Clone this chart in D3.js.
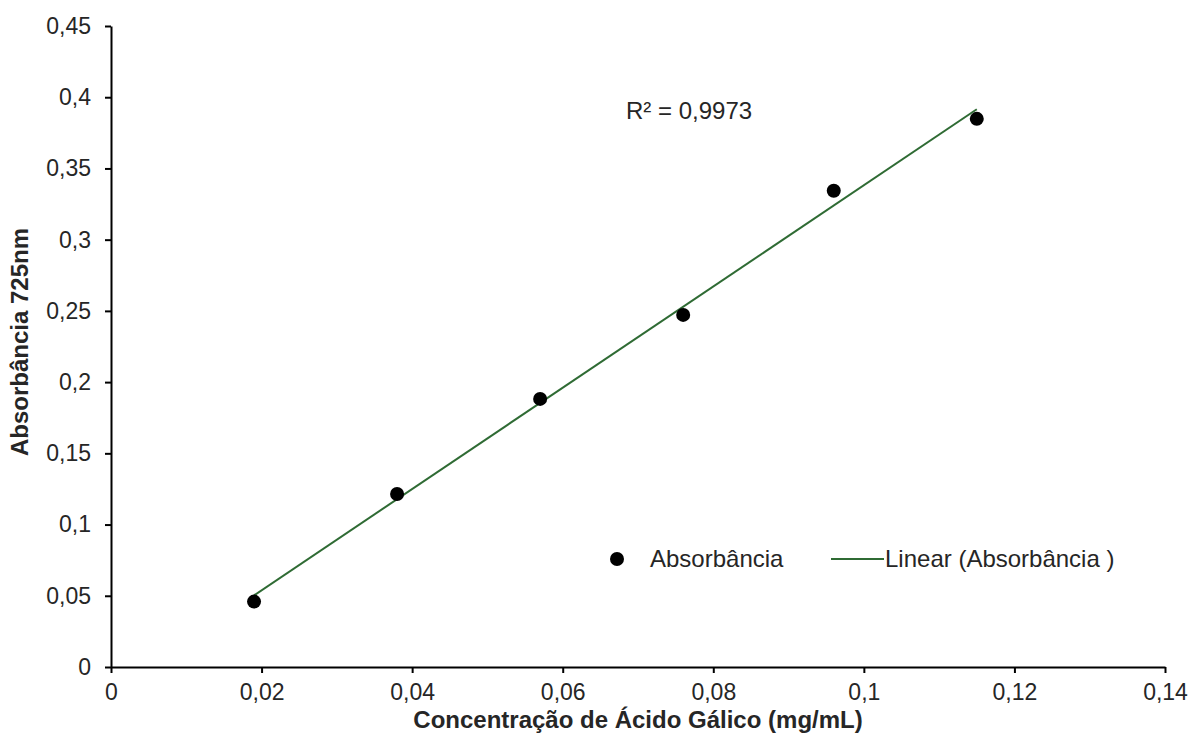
<!DOCTYPE html>
<html>
<head>
<meta charset="utf-8">
<script src="https://cdn.jsdelivr.net/npm/d3@7"></script>
<style>
  body { margin: 0; background: #fff; }
  svg text { font-family: "Liberation Sans", Arial, sans-serif; fill: #262626; }
</style>
</head>
<body>
<div id="chart"></div>
<script>
// data
const concentracao = [0.019, 0.038, 0.057, 0.076, 0.096, 0.115];
const absorbancia = [0.0459, 0.1215, 0.1882, 0.2472, 0.3343, 0.3848];

const xTicks = [0, 0.02, 0.04, 0.06, 0.08, 0.1, 0.12, 0.14];
const xTickLabels = ["0", "0,02", "0,04", "0,06", "0,08", "0,1", "0,12", "0,14"];
const yTicks = [0, 0.05, 0.1, 0.15, 0.2, 0.25, 0.3, 0.35, 0.4, 0.45];
const yTickLabels = ["0", "0,05", "0,1", "0,15", "0,2", "0,25", "0,3", "0,35", "0,4", "0,45"];

const r2Label = "R² = 0,9973";
const seriesName = "Absorbância";
const trendName = "Linear (Absorbância )";
const xTitle = "Concentração de Ácido Gálico (mg/mL)";
const yTitle = "Absorbância 725nm";

const chartWidth = 1194;
const chartHeight = 744;
const margin = {top: 26, right: 29, bottom: 77, left: 111};
const trendColor = "#2f6b34";

const data = concentracao.map((x, i) => ({x: x, y: absorbancia[i]}));

// least squares fit for the trendline
const mx = d3.mean(concentracao), my = d3.mean(absorbancia);
const slope = d3.sum(data, d => (d.x - mx) * (d.y - my)) / d3.sum(data, d => (d.x - mx) ** 2);
const intercept = my - slope * mx;
const xExtent = d3.extent(concentracao);
const trend = xExtent.map(x => ({x: x, y: intercept + slope * x}));

const x = d3.scaleLinear()
  .domain([0, 0.14])
  .range([margin.left, chartWidth - margin.right]);

const y = d3.scaleLinear()
  .domain([0, 0.45])
  .range([chartHeight - margin.bottom, margin.top]);

const svg = d3.select('#chart').append('svg')
  .attr('width', chartWidth)
  .attr('height', chartHeight);

// axes
const xAxis = svg.append('g')
  .attr('transform', `translate(0,${y(0)})`)
  .call(d3.axisBottom(x).tickValues(xTicks).tickFormat((d, i) => xTickLabels[i]).tickSize(6).tickPadding(11).tickSizeOuter(0));

const yAxis = svg.append('g')
  .attr('transform', `translate(${x(0)},0)`)
  .call(d3.axisLeft(y).tickValues(yTicks).tickFormat((d, i) => yTickLabels[i]).tickSize(6).tickPadding(14).tickSizeOuter(0));

[xAxis, yAxis].forEach(g => {
  g.select('.domain').attr('stroke', '#000').attr('stroke-width', 2);
  g.selectAll('.tick line').attr('stroke', '#000').attr('stroke-width', 2);
  g.selectAll('.tick text')
    .attr('font-size', 23)
    .attr('font-family', '"Liberation Sans", Arial, sans-serif')
    .attr('fill', '#262626');
});

// trendline
svg.append('path')
  .datum(trend)
  .attr('d', d3.line().x(d => x(d.x)).y(d => y(d.y)))
  .attr('fill', 'none')
  .attr('stroke', trendColor)
  .attr('stroke-width', 2);

// points
svg.append('g').selectAll('circle')
  .data(data)
  .join('circle')
  .attr('cx', d => x(d.x))
  .attr('cy', d => y(d.y))
  .attr('r', 7)
  .attr('fill', '#000');

// R squared
svg.append('text')
  .attr('x', 626)
  .attr('y', 119)
  .attr('font-size', 24)
  .text(r2Label);

// legend
const legend = svg.append('g');
legend.append('circle').attr('cx', 617).attr('cy', 559).attr('r', 7).attr('fill', '#000');
legend.append('text').attr('x', 650).attr('y', 567).attr('font-size', 24).text(seriesName);
legend.append('line')
  .attr('x1', 831).attr('x2', 884).attr('y1', 559).attr('y2', 559)
  .attr('stroke', trendColor).attr('stroke-width', 2);
legend.append('text').attr('x', 885).attr('y', 567).attr('font-size', 24).text(trendName);

// axis titles
svg.append('text')
  .attr('x', 638)
  .attr('y', 728)
  .attr('text-anchor', 'middle')
  .attr('font-size', 24)
  .attr('font-weight', 'bold')
  .text(xTitle);

svg.append('text')
  .attr('transform', 'translate(28,342) rotate(-90)')
  .attr('text-anchor', 'middle')
  .attr('font-size', 24)
  .attr('font-weight', 'bold')
  .text(yTitle);
</script>
</body>
</html>
